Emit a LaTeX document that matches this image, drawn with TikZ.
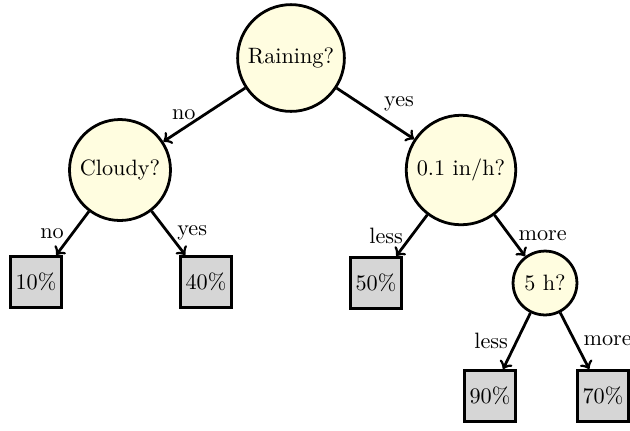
\documentclass[tikz,border=0pt]{standalone}
\begin{document}
\begin{tikzpicture}[x=0.45pt,y=-0.45pt,
  question/.style={circle,draw,line width=1.25pt,fill=yellow!12,inner sep=3.33pt},
  leafbox/.style={rectangle,draw,line width=1.25pt,fill=black!16,minimum size=23pt,inner sep=2pt},
  edge/.style={->,line width=1.25pt}]
\useasboundingbox (0,0) rectangle (630,430);
\node[question] (rain) at (291,58) {Raining?};
\node[question] (cloud) at (120,170) {Cloudy?};
\node[question] (inh) at (461,170) {0.1 in/h?};
\node[question] (five) at (545,283) {5 h?};
\node[leafbox] (l10) at (36,282) {10\%};
\node[leafbox] (l40) at (206,282) {40\%};
\node[leafbox] (l50) at (376,283) {50\%};
\node[leafbox] (l90) at (490,396) {90\%};
\node[leafbox] (l70) at (603,396) {70\%};
\draw[edge] (rain) -- node[midway,left] (tno) {no} (cloud);
\draw[edge] (rain) -- node[midway,right,yshift=4.5pt] (tyes) {yes} (inh);
\draw[edge] (cloud) -- node[midway,left] (tcno) {no} (l10);
\draw[edge] (cloud) -- node[midway,right] (tcyes) {yes} (l40);
\draw[edge] (inh) -- node[midway,left] (tless) {less} (l50);
\draw[edge] (inh) -- node[midway,right] (tmore) {more} (five);
\draw[edge] (five) -- node[midway,left] (tless2) {less} (l90);
\draw[edge] (five) -- node[midway,right] (tmore2) {more} (l70);
\end{tikzpicture}
\end{document}
